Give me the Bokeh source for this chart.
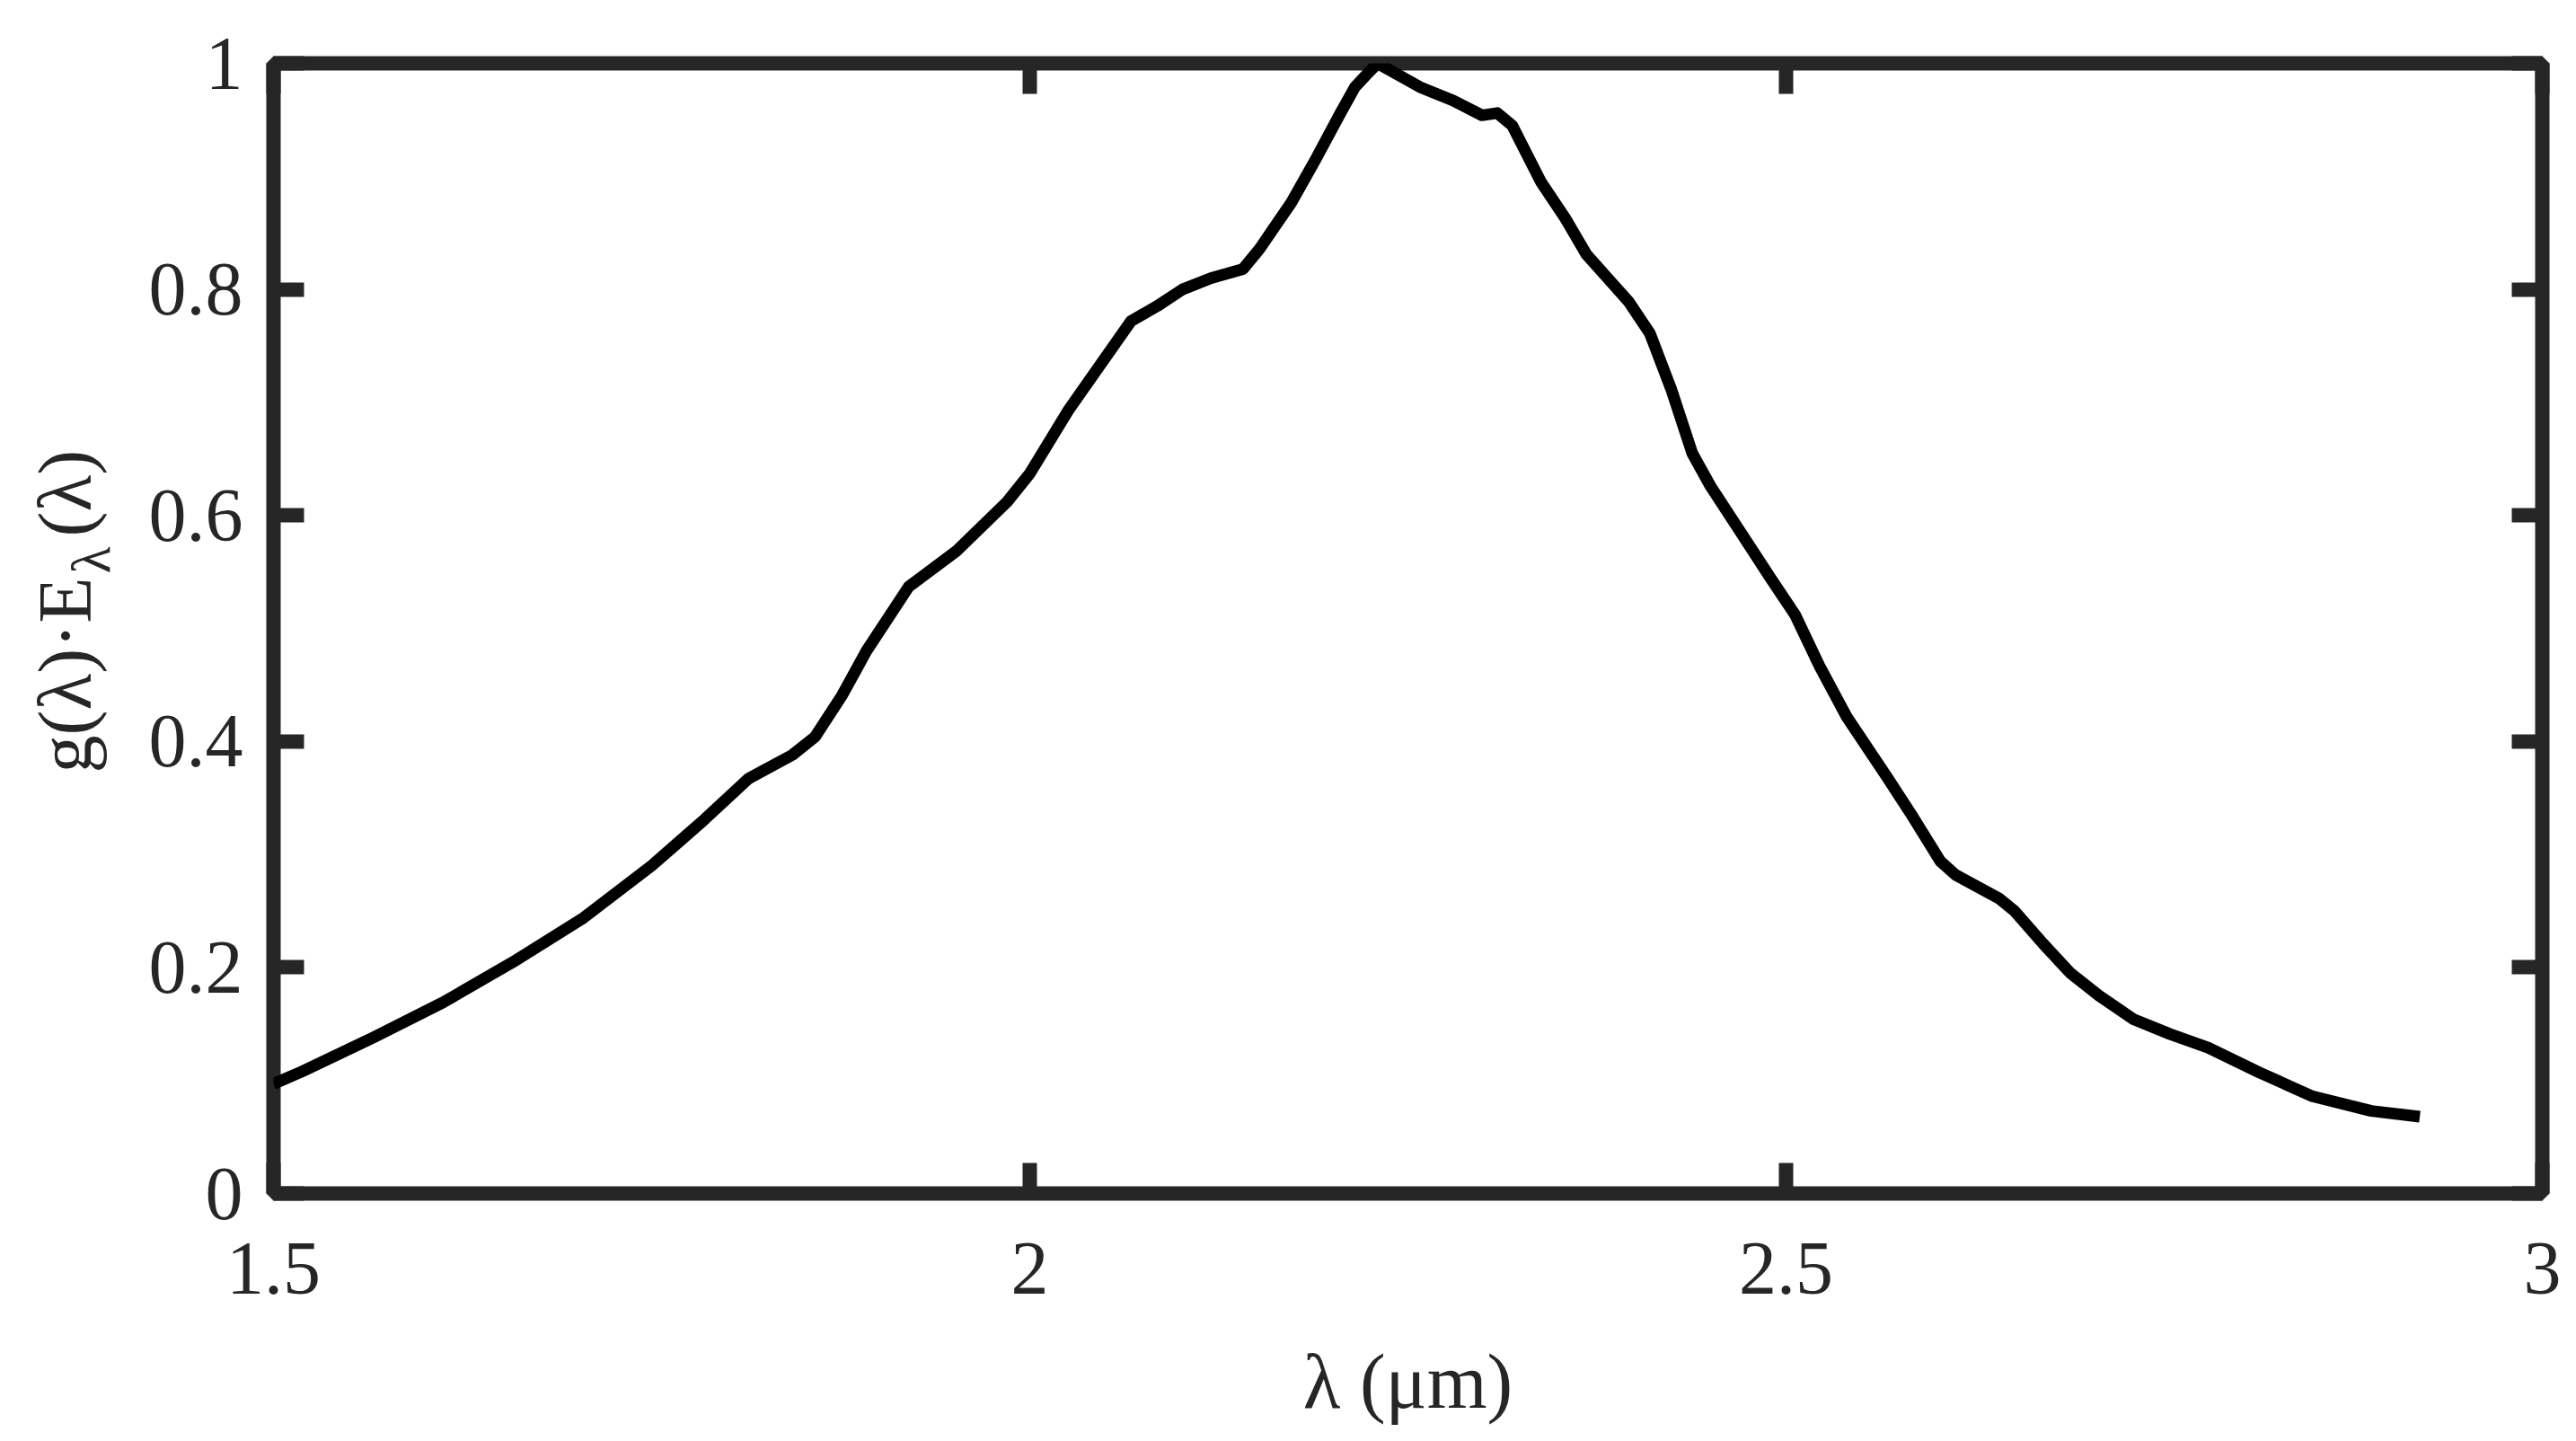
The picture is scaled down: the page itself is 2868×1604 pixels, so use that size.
import numpy as np
from bokeh.plotting import figure
from bokeh.layouts import row
from bokeh.models import Range1d, FixedTicker, LinearAxis, Label
from bokeh.embed import file_html
from bokeh.resources import INLINE

# ---- data ----
wavelength_um = [1.500, 1.519, 1.566, 1.612, 1.658, 1.704, 1.750, 1.785, 1.814, 1.843,
                 1.858, 1.876, 1.892, 1.920, 1.952, 1.985, 2.000, 2.026, 2.067, 2.084,
                 2.101, 2.120, 2.141, 2.152, 2.173, 2.189, 2.205, 2.215, 2.224, 2.230,
                 2.258, 2.280, 2.299, 2.309, 2.319, 2.338, 2.354, 2.368, 2.382, 2.396,
                 2.410, 2.424, 2.438, 2.450, 2.470, 2.490, 2.506, 2.522, 2.540, 2.567,
                 2.583, 2.602, 2.612, 2.641, 2.651, 2.670, 2.688, 2.707, 2.730, 2.754,
                 2.779, 2.813, 2.848, 2.887, 2.919]
signal = [0.097, 0.108, 0.138, 0.169, 0.2045, 0.243, 0.290, 0.331, 0.367, 0.388,
          0.404, 0.441, 0.480, 0.537, 0.569, 0.612, 0.637, 0.694, 0.772, 0.785,
          0.800, 0.810, 0.818, 0.836, 0.877, 0.915, 0.955, 0.979, 0.992, 1.000,
          0.979, 0.967, 0.954, 0.956, 0.945, 0.895, 0.863, 0.831, 0.810, 0.789,
          0.761, 0.712, 0.655, 0.626, 0.585, 0.544, 0.512, 0.467, 0.422, 0.368,
          0.335, 0.294, 0.282, 0.261, 0.250, 0.221, 0.195, 0.175, 0.154, 0.141,
          0.129, 0.107, 0.086, 0.073, 0.068]

x_ticks = [1.5, 2.0, 2.5, 3.0]
x_tick_labels = ["1.5", "2", "2.5", "3"]
y_ticks = [0.0, 0.2, 0.4, 0.6, 0.8, 1.0]
y_tick_labels = ["0", "0.2", "0.4", "0.6", "0.8", "1"]

x_label = "λ (μm)"
y_label_parts = ["g(λ)·E", "λ", "(λ)"]

X_MIN, X_MAX = 1.5, 3.0
Y_MIN, Y_MAX = 0.0, 1.0

FONT = "Liberation Serif"
INK = "#262626"
TICK_FS = "84px"

# ---- layout geometry (page pixels) ----
H = 1600
LABEL_W = 140            # strip holding the rotated y-axis title
MAIN_W = 2860 - LABEL_W
FRAME_LEFT = 304
TOP, RIGHT_B = 70, 30
FRAME_H = 1258
BOTTOM_B = H - TOP - FRAME_H

y_range = Range1d(Y_MIN, Y_MAX)

p = figure(width=MAIN_W, height=H,
           x_range=Range1d(X_MIN, X_MAX), y_range=y_range,
           output_backend="svg", toolbar_location=None,
           min_border_left=FRAME_LEFT - LABEL_W, min_border_right=RIGHT_B,
           min_border_top=TOP, min_border_bottom=BOTTOM_B)
p.grid.visible = False
p.background_fill_color = "white"
p.border_fill_color = "white"
p.outline_line_color = INK
p.outline_line_width = 16

p.line(wavelength_um, signal, line_color="#000000", line_width=13,
       line_join="round", line_cap="butt")


def style_axis(ax, ticks, labels, show_labels):
    ax.ticker = FixedTicker(ticks=ticks)
    ax.major_label_overrides = {t: l for t, l in zip(ticks, labels)}
    ax.major_tick_in = 34
    ax.major_tick_out = 0
    ax.major_tick_line_width = 16
    ax.major_tick_line_color = INK
    ax.minor_tick_line_color = None
    ax.axis_line_color = None
    ax.major_label_text_font = FONT
    if show_labels:
        ax.major_label_text_font_size = TICK_FS
        ax.major_label_text_color = INK
    else:
        ax.major_label_text_font_size = "1px"
        ax.major_label_text_color = None
        ax.major_label_standoff = 0
        ax.axis_label_standoff = 0


xa = p.xaxis[0]
ya = p.yaxis[0]
style_axis(xa, x_ticks, x_tick_labels, True)
style_axis(ya, y_ticks, y_tick_labels, True)
xa.major_label_standoff = 55
ya.major_label_standoff = 34

xa.axis_label = x_label
xa.axis_label_text_font = FONT
xa.axis_label_text_font_size = "86px"
xa.axis_label_text_font_style = "normal"
xa.axis_label_text_color = INK
xa.axis_label_standoff = 47

top = LinearAxis()
right = LinearAxis()
style_axis(top, x_ticks, x_tick_labels, False)
style_axis(right, y_ticks, y_tick_labels, False)
p.add_layout(top, "above")
p.add_layout(right, "right")

# ---- strip with the y-axis title: shares the y scale, x in pixels ----
lab = figure(width=LABEL_W, height=H, x_range=Range1d(0, LABEL_W), y_range=y_range,
             output_backend="svg", toolbar_location=None,
             x_axis_location=None, y_axis_location=None,
             min_border_left=0, min_border_right=0,
             min_border_top=TOP, min_border_bottom=BOTTOM_B)
lab.grid.visible = False
lab.outline_line_color = None
lab.background_fill_color = "white"
lab.border_fill_color = "white"


def py(page_y):
    return Y_MIN + (TOP + FRAME_H - page_y) * (Y_MAX - Y_MIN) / FRAME_H


pieces = [
    (y_label_parts[0], 72, 860, "84px"),
    (y_label_parts[1], 100, 638, "62px"),
    (y_label_parts[2], 72, 597, "84px"),
]
for txt, bx, by, fs in pieces:
    lab.add_layout(Label(x=bx, y=py(by), text=txt,
                         angle=np.pi / 2, text_font=FONT, text_font_size=fs,
                         text_color=INK, text_align="left",
                         text_baseline="alphabetic"))

layout = row(lab, p, spacing=0)
open("out.html", "w").write(file_html(layout, INLINE))
